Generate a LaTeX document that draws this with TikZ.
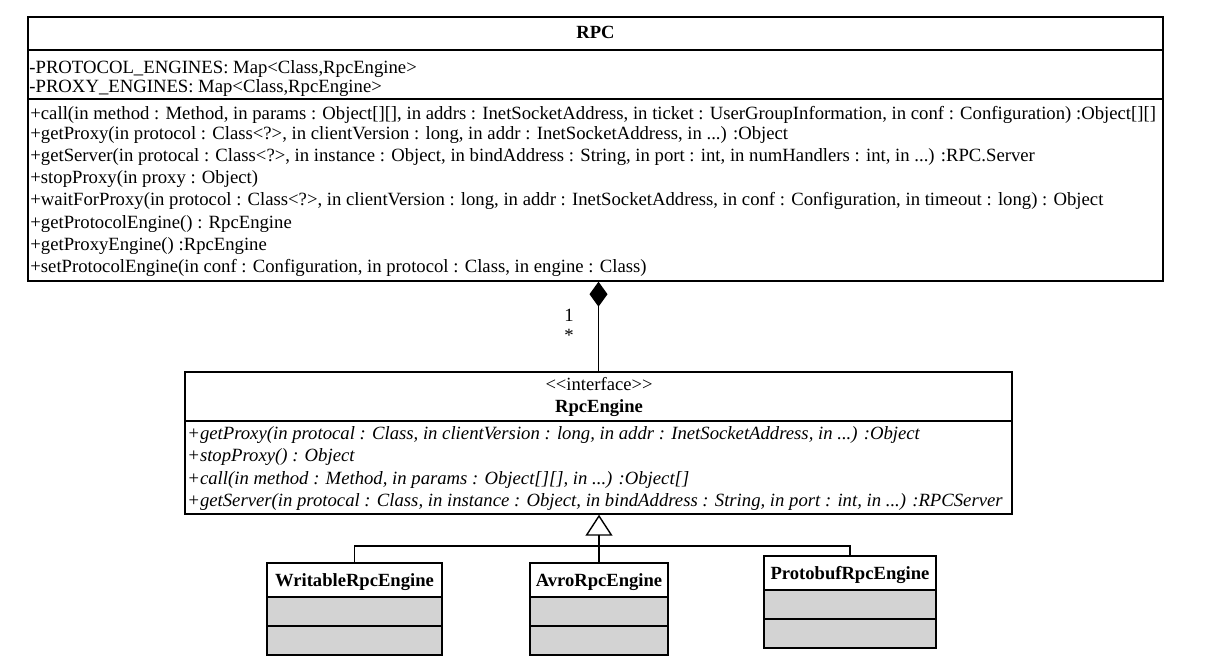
\documentclass[tikz,border=0pt]{standalone}
\usepackage{fontspec}
\setmainfont{Liberation Serif}
\usetikzlibrary{arrows.meta,fit,shadows}
\definecolor{cellgray}{RGB}{211,211,211}
\tikzset{
  umlbox/.style={draw, line width=0.7pt, inner sep=0pt},
  framebox/.style={umlbox, fill=white, drop shadow={shadow xshift=0.7pt, shadow yshift=-0.7pt, fill=black!45, opacity=1}},
  cellbox/.style={umlbox, fill=cellgray},
  optxt/.style={anchor=base west, inner sep=0pt, font=\fontsize{9.35}{11}\selectfont},
  abstxt/.style={optxt, font=\fontsize{9.35}{11}\selectfont\itshape},
  headtxt/.style={anchor=base, inner sep=0pt, font=\fontsize{9.3}{11}\selectfont\bfseries},
  link/.style={line width=0.7pt}
}
\begin{document}
\begin{tikzpicture}[x=0.5pt, y=-0.5pt]
    \useasboundingbox (0,0) rectangle (1209,671);

    % RPC class
    \node[framebox, fit={(28,17) (1163,281)}] (rpc) {};
    \node[umlbox, fit={(28,17) (1163,50)}] (rpchead) {};
    \node[umlbox, fit={(28,50) (1163,99)}] (rpcattr) {};
    \node[umlbox, fit={(28,99) (1163,281)}] (rpcops) {};
    \node[headtxt] (rpcname) at (595.5,38) {RPC};
    \node[optxt] (attr1) at (29,73) {-PROTOCOL\_ENGINES: Map<Class,RpcEngine>};
    \node[optxt] (attr2) at (29,92) {-PROXY\_ENGINES: Map<Class,RpcEngine>};
    \foreach \y/\t [count=\i] in {
        119/{+call(in method : Method, in params : Object[][], in addrs : InetSocketAddress, in ticket : UserGroupInformation, in conf : Configuration) :Object[][]},
        139/{+getProxy(in protocol : Class<?>, in clientVersion : long, in addr : InetSocketAddress, in ...) :Object},
        161/{+getServer(in protocal : Class<?>, in instance : Object, in bindAddress : String, in port : int, in numHandlers : int, in ...) :RPC.Server},
        183/{+stopProxy(in proxy : Object)},
        205/{+waitForProxy(in protocol : Class<?>, in clientVersion : long, in addr : InetSocketAddress, in conf : Configuration,  in timeout : long) : Object},
        228/{+getProtocolEngine() : RpcEngine},
        250/{+getProxyEngine() :RpcEngine},
        272/{+setProtocolEngine(in conf : Configuration, in protocol : Class, in engine : Class)}}
        \node[optxt] (rpcop\i) at (30,\y) {\t};

    % RpcEngine interface
    \node[framebox, fit={(185,372) (1012,514)}] (eng) {};
    \node[umlbox, fit={(185,372) (1012,421)}] (enghead) {};
    \node[umlbox, fit={(185,421) (1012,514)}] (engops) {};
    \node[anchor=base, inner sep=0pt, font=\fontsize{9.3}{11}\selectfont] (stereo) at (599,390) {<\kern0pt<interface>\kern0pt>};
    \node[headtxt] (engname) at (599,412) {RpcEngine};
    \foreach \y/\t [count=\i] in {
        439/{+getProxy(in protocal : Class, in clientVersion : long, in addr : InetSocketAddress, in ...) :Object},
        461/{+stopProxy() : Object},
        484/{+call(in method : Method, in params : Object[][], in ...) :Object[]},
        506/{+getServer(in protocal : Class, in instance : Object, in bindAddress : String, in port : int, in ...) :RPCServer}}
        \node[abstxt] (engop\i) at (187,\y) {\t};

    % implementations
    \foreach \n/\l/\r/\t/\txt in {writable/267/442/563/WritableRpcEngine,
        avro/530/668/563/AvroRpcEngine, proto/764/936/556/ProtobufRpcEngine} {
        \node[framebox, fit={(\l,\t) (\r,\t+92)}] (\n box) {};
        \node[umlbox, fill=white, fit={(\l,\t) (\r,\t+34)}] (\n) {};
        \node[cellbox, fit={(\l,\t+34) (\r,\t+63)}] (\n attr) {};
        \node[cellbox, fit={(\l,\t+63) (\r,\t+92)}] (\n ops) {};
        \node[headtxt] (\n name) at ({(\l+\r)/2},\t+23) {\txt};
    }

    % connectors
    \coordinate (joint) at (599,546);
    \draw[link] (writable.north) |- (joint) -| (proto.north);
    \draw[link, -{Triangle[open, length=10.5pt, width=13.5pt]}] (avro.north) -- (avro.north |- engops.south);
    \draw[link, -{Diamond[length=12.5pt, width=9pt]}] (enghead.north) -- (enghead.north |- rpcops.south);
    \node[anchor=base, inner sep=0pt, font=\fontsize{9.35}{11}\selectfont] (mult1) at (569,321) {1};
    \node[anchor=base, inner sep=0pt, font=\fontsize{9.35}{11}\selectfont] (mult2) at (569,341) {*};
\end{tikzpicture}
\end{document}
